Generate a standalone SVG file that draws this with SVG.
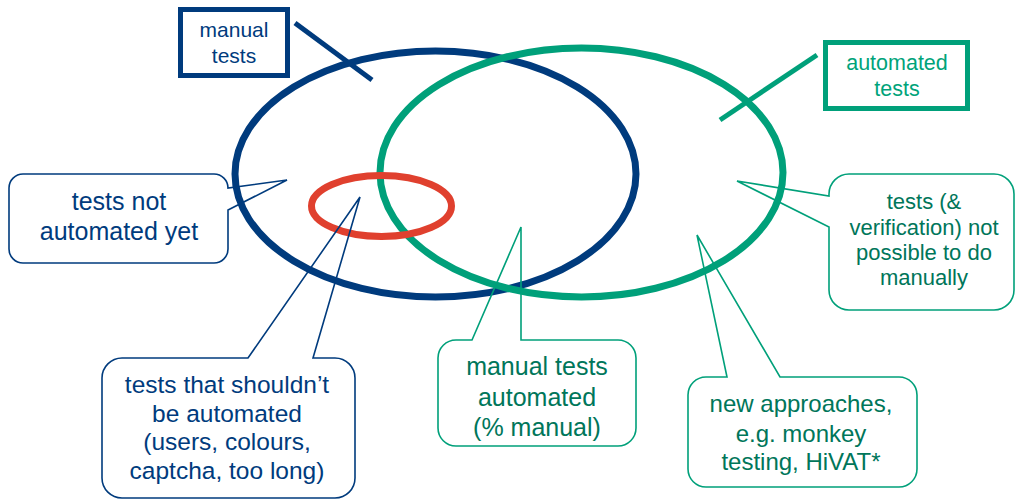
<svg xmlns="http://www.w3.org/2000/svg" width="1016" height="500" viewBox="0 0 1016 500">
<style>
.t{font-family:"Liberation Sans",Arial,sans-serif;text-anchor:middle}
.bl{fill:#003B7D}
.gr{fill:#00765A}
.gl{fill:#00A37A}
.cb{fill:none;stroke:#003B7D;stroke-width:1.6;stroke-linejoin:miter}
.cg{fill:none;stroke:#00A07A;stroke-width:1.6;stroke-linejoin:miter}
</style>
<rect width="1016" height="500" fill="#fff"/>
<g id="sets">
<ellipse id="manual-set" cx="435.5" cy="174" rx="200.5" ry="123" fill="none" stroke="#003B7D" stroke-width="7"/>
<ellipse id="automated-set" cx="581.5" cy="172.5" rx="201.5" ry="124.5" fill="none" stroke="#00A07A" stroke-width="7"/>
<ellipse id="shouldnt-set" cx="381.5" cy="206" rx="70" ry="30.5" fill="none" stroke="#E0402E" stroke-width="7"/>
</g>
<g id="connectors">
<line x1="295" y1="23" x2="372" y2="80" stroke="#003B7D" stroke-width="5"/>
<line x1="817" y1="55" x2="720" y2="120" stroke="#00A07A" stroke-width="5"/>
</g>
<g id="manual-tests">
<rect x="180.5" y="9.5" width="107" height="66" fill="none" stroke="#003B7D" stroke-width="5"/>
<text class="t bl" x="234" y="37" font-size="21">manual</text>
<text class="t bl" x="234" y="63" font-size="21">tests</text>
</g>
<g id="automated-tests">
<rect x="825.5" y="42.5" width="142" height="66" fill="none" stroke="#00A07A" stroke-width="5"/>
<text class="t gl" x="897" y="70" font-size="21.5">automated</text>
<text class="t gl" x="897" y="96" font-size="21.5">tests</text>
</g>
<g id="not-automated-yet">
<path class="cb" d="M23,174 H214 A14,14 0 0 1 228,188 L287,180 L228,210 V249 A14,14 0 0 1 214,263 H23 A14,14 0 0 1 9,249 V188 A14,14 0 0 1 23,174 Z"/>
<text class="t bl" x="119" y="210" font-size="25">tests not</text>
<text class="t bl" x="119" y="240" font-size="25">automated yet</text>
</g>
<g id="shouldnt-be-automated">
<path class="cb" d="M122,358 H248 L360,197 L313,358 H335 A20,20 0 0 1 355,378 V478 A20,20 0 0 1 335,498 H122 A20,20 0 0 1 102,478 V378 A20,20 0 0 1 122,358 Z"/>
<text class="t bl" x="227" y="393" font-size="24.5">tests that shouldn’t</text>
<text class="t bl" x="227" y="422" font-size="24.5">be automated</text>
<text class="t bl" x="227" y="450" font-size="24.5">(users, colours,</text>
<text class="t bl" x="227" y="479" font-size="24.5">captcha, too long)</text>
</g>
<g id="manual-tests-automated">
<path class="cg" d="M456,340 H472 L521,227 L521,340 H618 A18,18 0 0 1 636,358 V428 A18,18 0 0 1 618,446 H456 A18,18 0 0 1 438,428 V358 A18,18 0 0 1 456,340 Z"/>
<text class="t gr" x="537" y="375" font-size="25">manual tests</text>
<text class="t gr" x="537" y="406" font-size="25">automated</text>
<text class="t gr" x="537" y="436" font-size="25">(% manual)</text>
</g>
<g id="new-approaches">
<path class="cg" d="M706,377 H727 L697,235 L780,377 H899 A18,18 0 0 1 917,395 V469 A18,18 0 0 1 899,487 H706 A18,18 0 0 1 688,469 V395 A18,18 0 0 1 706,377 Z"/>
<text class="t gr" x="801" y="412" font-size="24">new approaches,</text>
<text class="t gr" x="801" y="442" font-size="24">e.g. monkey</text>
<text class="t gr" x="801" y="470" font-size="24">testing, HiVAT*</text>
</g>
<g id="not-possible-manually">
<path class="cg" d="M849,174 H994 A20,20 0 0 1 1014,194 V290 A20,20 0 0 1 994,310 H849 A20,20 0 0 1 829,290 V227 L737,181 L829,196 V194 A20,20 0 0 1 849,174 Z"/>
<text class="t gr" x="924" y="209" font-size="22">tests (&amp;</text>
<text class="t gr" x="924" y="235" font-size="22">verification) not</text>
<text class="t gr" x="924" y="260" font-size="22">possible to do</text>
<text class="t gr" x="924" y="285" font-size="22">manually</text>
</g>
</svg>
